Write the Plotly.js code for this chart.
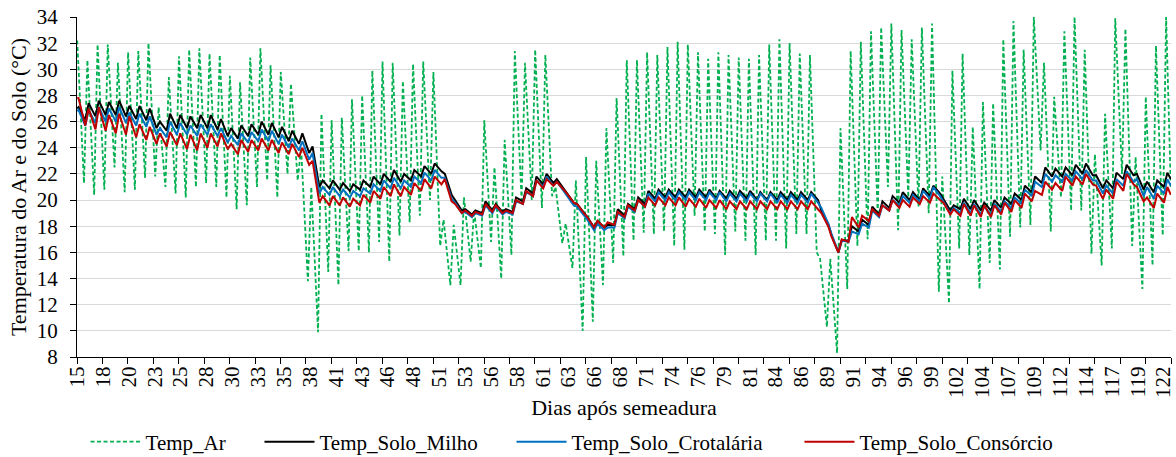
<!DOCTYPE html>
<html><head><meta charset="utf-8">
<script src="https://cdn.plot.ly/plotly-3.0.1.min.js"></script>
<style>html,body{margin:0;padding:0;background:#fff;}#chart{width:1176px;height:457px;}</style>
</head><body><div id="chart"></div>
<script>
// x-axis labels (days after sowing), one label every 61 hourly readings
const tickLabels = ['15','18','20','23','25','28','30','33','35','38','41','43','46','48','51','53','56','58','61','63','66','68','71','74','76','79','81','84','86','89','91','94','96','99','102','104','107','109','112','114','117','119','122'];

// Air temperature: daily maximum (days 15..122) and daily minimum (days 16..122)
const arMax = [32.2,30.7,31.9,31.9,30.5,31.3,31.4,32.0,27.1,29.4,
  31.0,31.5,31.6,31.2,31.1,29.5,29.0,30.9,31.6,30.3,
  29.8,28.9,24.0,21.0,26.6,26.1,26.3,27.7,28.0,29.9,
  30.6,30.5,29.1,30.4,30.6,29.8,18.5,18.1,20.2,19.2,
  26.1,22.5,24.6,31.4,30.5,31.5,31.1,21.0,18.2,21.5,
  23.3,23.0,25.5,27.8,30.7,30.7,31.3,31.1,31.7,32.1,
  31.9,31.3,30.8,31.3,31.1,30.9,30.8,31.1,31.9,32.3,
  32.0,31.2,31.1,15.5,15.5,25.5,31.4,32.1,32.9,33.2,
  33.5,33.0,32.3,33.2,33.5,21.8,29.9,31.2,25.6,27.5,
  27.4,32.3,33.7,31.5,34.0,30.5,27.9,32.9,34.0,31.5,
  23.5,26.6,33.9,33.1,23.3,27.9,31.8,34.0];
const arMin = [21.3,20.4,20.8,22.5,20.6,20.8,21.7,21.8,21.0,20.5,
  20.2,21.0,21.3,21.0,20.2,19.3,19.6,21.0,21.5,20.2,
  22.0,21.5,13.8,9.9,14.5,13.5,16.1,16.1,16.0,16.8,
  15.3,17.3,18.3,18.8,20.0,16.5,13.5,13.5,15.3,14.8,
  16.8,14.0,15.8,20.0,20.0,19.4,20.3,16.7,14.8,10.0,
  10.7,13.5,15.2,15.7,16.9,17.5,17.4,17.6,16.5,16.2,
  18.8,17.6,17.4,15.8,17.6,16.9,15.8,16.9,16.9,16.3,
  17.4,17.4,16.0,10.3,8.3,13.2,16.5,17.0,18.8,21.0,
  17.7,20.2,19.5,19.0,13.0,12.1,16.3,15.8,13.2,15.2,
  14.7,17.2,17.9,18.1,23.8,17.6,20.2,19.2,19.2,15.9,
  15.0,16.3,22.0,16.5,13.2,15.0,17.3];
const arEnd = 21.0;

// Soil temperature, maize: daily maximum (days 15..122), minimum (days 16..122)
const milhoMax = [27.1,27.4,27.6,27.5,27.6,27.2,27.2,27.0,26.0,26.6,
  26.5,26.4,26.5,26.5,26.2,25.5,25.7,25.8,26.0,25.9,
  25.6,25.3,25.1,24.1,21.5,21.5,21.3,21.2,21.5,21.8,
  22.0,22.3,22.0,22.3,22.6,22.8,22.0,20.0,19.3,19.2,
  19.9,19.7,19.3,20.2,20.9,21.8,22.0,21.6,20.5,19.7,
  18.7,18.4,18.1,19.3,19.7,20.2,20.7,20.8,20.8,20.8,
  20.8,20.8,20.8,20.7,20.7,20.7,20.7,20.6,20.6,20.6,
  20.6,20.6,20.6,19.2,17.3,16.9,18.0,18.5,19.5,19.9,
  20.3,20.6,20.6,20.9,21.1,20.1,19.6,20.1,20.0,19.8,
  20.0,20.2,20.5,21.1,21.8,22.5,22.4,22.5,22.7,22.8,
  21.9,21.5,22.1,22.7,22.0,21.4,21.5,22.1];
const milhoMin = [26.1,26.4,26.5,26.5,26.4,26.2,26.1,25.5,25.3,25.5,
  25.5,25.5,25.5,25.4,24.9,24.7,24.9,25.0,25.0,24.8,
  24.5,24.3,23.6,21.0,20.9,20.8,20.7,20.8,21.0,21.2,
  21.4,21.4,21.5,21.8,22.0,22.2,20.4,19.2,18.9,19.0,
  19.2,19.1,19.1,19.9,20.5,21.2,21.3,20.9,19.8,19.0,
  17.9,17.9,18.1,18.8,19.3,19.7,20.1,20.2,20.2,20.2,
  20.2,20.2,20.1,20.1,20.1,20.1,20.0,20.0,20.0,20.0,
  20.0,20.0,20.0,18.2,16.0,16.9,17.6,18.1,18.9,19.4,
  19.8,20.0,20.0,20.3,20.5,19.2,19.3,19.3,19.2,19.2,
  19.4,19.7,20.0,20.6,21.3,21.8,21.8,21.9,22.0,21.9,
  20.9,20.9,21.6,21.9,20.8,20.6,21.0];
const milhoStart = 27.0, milhoEnd = 21.6;

// Soil temperature, sunn hemp
const crotMax = [26.9,26.9,27.1,27.0,27.1,26.7,26.6,26.4,25.5,26.0,
  25.9,25.7,25.8,25.8,25.5,24.9,25.1,25.2,25.4,25.3,
  25.0,24.7,24.5,23.6,21.0,21.0,20.8,20.7,20.9,21.2,
  21.5,21.7,21.5,21.8,22.1,22.3,21.7,19.8,19.1,19.0,
  19.6,19.5,19.1,19.9,20.6,21.5,21.8,21.4,20.3,19.5,
  18.5,18.2,17.9,19.0,19.5,20.0,20.5,20.6,20.6,20.6,
  20.6,20.6,20.6,20.6,20.5,20.5,20.5,20.5,20.5,20.4,
  20.4,20.4,20.5,19.4,17.4,16.9,17.6,18.2,19.2,19.6,
  20.0,20.3,20.4,20.7,21.0,19.9,19.4,19.8,19.7,19.5,
  19.7,19.9,20.2,20.8,21.4,22.0,21.9,22.0,22.2,22.3,
  21.5,21.1,21.6,22.2,21.6,21.0,21.1,21.6];
const crotMin = [25.7,25.9,26.0,26.0,25.9,25.7,25.6,25.0,24.8,25.0,
  25.0,24.9,25.0,24.9,24.4,24.2,24.4,24.5,24.5,24.3,
  24.0,23.8,23.1,20.5,20.4,20.3,20.2,20.3,20.5,20.7,
  20.9,20.9,21.0,21.3,21.5,21.7,20.1,19.0,18.7,18.8,
  19.0,18.9,18.9,19.7,20.3,21.0,21.1,20.7,19.6,18.8,
  17.7,17.7,17.9,18.6,19.1,19.5,19.9,20.0,20.0,20.0,
  20.0,20.0,20.0,19.9,19.9,19.9,19.9,19.9,19.8,19.8,
  19.8,19.8,19.8,18.2,16.0,16.8,17.4,17.9,18.7,19.2,
  19.6,19.8,19.9,20.1,20.3,19.0,19.0,19.0,18.9,18.9,
  19.1,19.4,19.7,20.3,21.0,21.4,21.4,21.5,21.6,21.5,
  20.5,20.5,21.1,21.4,20.3,20.1,20.5];
const crotStart = 26.8, crotEnd = 21.1;

// Soil temperature, intercropping
const consMax = [27.8,27.0,27.1,26.5,26.6,26.4,25.8,25.6,25.1,25.2,
  25.1,25.0,25.1,25.1,25.1,24.3,24.6,24.6,24.7,24.6,
  24.4,24.3,24.0,23.0,20.3,20.3,20.2,20.1,20.4,20.7,
  21.0,21.2,21.0,21.3,21.6,21.8,21.6,19.7,19.2,19.1,
  19.7,19.6,19.2,20.0,20.7,21.5,21.6,21.4,20.5,19.7,
  18.7,18.4,18.3,19.1,19.6,20.0,20.2,20.2,20.2,20.2,
  20.1,20.1,20.0,20.0,19.9,19.9,19.9,19.9,19.9,19.9,
  19.9,19.9,19.9,19.0,17.2,17.0,18.7,18.8,19.3,19.6,
  20.0,20.0,20.2,20.3,20.5,19.8,19.3,19.7,19.6,19.6,
  19.6,19.8,20.0,20.5,20.7,21.4,21.3,21.8,21.8,22.0,
  21.1,20.8,21.4,22.0,21.0,20.2,20.5,21.0];
const consMin = [25.7,25.4,25.3,25.1,25.0,24.8,24.6,24.3,24.1,24.2,
  23.9,23.8,24.0,24.1,23.9,23.5,23.7,23.8,23.8,23.6,
  23.5,23.3,22.7,19.8,19.6,19.6,19.5,19.6,19.8,20.1,
  20.3,20.3,20.4,20.7,20.9,21.2,19.9,19.0,18.8,18.9,
  19.1,19.0,19.0,19.7,20.3,20.9,21.1,20.8,19.8,19.0,
  17.9,17.9,18.1,18.7,19.2,19.5,19.6,19.6,19.6,19.5,
  19.5,19.4,19.4,19.3,19.3,19.3,19.3,19.3,19.3,19.3,
  19.3,19.3,19.3,18.0,16.0,16.8,17.9,18.4,18.8,19.2,
  19.4,19.5,19.7,19.8,20.0,18.9,18.8,18.8,18.7,18.7,
  18.9,19.1,19.4,19.9,20.4,20.8,20.7,21.1,21.2,21.2,
  20.1,20.1,20.7,21.2,19.9,19.4,19.8];
const consStart = 27.8, consEnd = 20.4;

// ---- time grid: hourly categories starting at 14:00 of day 15 ----
const nHours = 2580, labelEvery = 61, tickEvery = 60;

function build(maxV, minV, startV, endV, maxOff, minOff) {
  const x = [], y = [];
  if (startV !== null) { x.push(0); y.push(startV); }
  for (let i = 0; i < maxV.length; i++) {
    if (i > 0) { x.push(24 * i + minOff); y.push(minV[i - 1]); }
    const h = 24 * i + maxOff;
    if (!(startV !== null && h === 0)) { x.push(h); y.push(maxV[i]); }
  }
  x.push(nHours - 1); y.push(endV);
  return {x, y};
}

const ar = build(arMax, arMin, null, arEnd, 0, -8);
const mi = build(milhoMax, milhoMin, milhoStart, milhoEnd, 3, -5);
const cr = build(crotMax, crotMin, crotStart, crotEnd, 3, -5);
const co = build(consMax, consMin, consStart, consEnd, 3, -5);

const FONT = '"Times New Roman", "Liberation Serif", serif';
const traces = [
  {x: ar.x, y: ar.y, name: 'Temp_Ar', mode: 'lines', legend: 'legend', line: {color: '#00B050', width: 1.8, dash: '4px,2.5px'}},
  {x: mi.x, y: mi.y, name: 'Temp_Solo_Milho', mode: 'lines', legend: 'legend2', line: {color: '#000000', width: 2}},
  {x: cr.x, y: cr.y, name: 'Temp_Solo_Crotalária', mode: 'lines', legend: 'legend3', line: {color: '#0070C0', width: 2}},
  {x: co.x, y: co.y, name: 'Temp_Solo_Consórcio', mode: 'lines', legend: 'legend4', line: {color: '#C00000', width: 2}}
];

const labelVals = tickLabels.map((_, k) => k * labelEvery);
const tickMarks = [];
for (let j = 0; j * tickEvery <= nHours; j++) tickMarks.push(j * tickEvery - 0.5);

function leg(xp) {
  return {orientation: 'h', x: xp, xanchor: 'left', y: -0.25, yanchor: 'middle',
    font: {family: FONT, size: 21, color: '#000'}, itemwidth: 50, bgcolor: 'rgba(0,0,0,0)'};
}

const layout = {
  width: 1176, height: 457,
  margin: {l: 77, r: 5, t: 17, b: 100, autoexpand: false},
  paper_bgcolor: '#fff', plot_bgcolor: '#fff',
  font: {family: FONT, color: '#000', size: 20},
  showlegend: true,
  xaxis: {
    range: [-0.5, nHours - 0.5], tickmode: 'array', tickvals: labelVals, ticktext: tickLabels,
    ticks: '', tickangle: -90, tickfont: {family: FONT, size: 21, color: '#000'}, automargin: false,
    showline: true, linecolor: '#000', linewidth: 1, showgrid: false, zeroline: false,
    minor: {tickmode: 'array', tickvals: tickMarks, ticks: 'outside', ticklen: 6, tickcolor: '#000', tickwidth: 1, showgrid: false},
    title: {text: 'Dias após semeadura', font: {family: FONT, size: 22, color: '#000'}, standoff: 2}
  },
  yaxis: {
    range: [8, 34], tickmode: 'linear', tick0: 8, dtick: 2, automargin: false,
    ticks: 'outside', ticklen: 6, tickcolor: '#000', ticklabelstandoff: 8,
    tickfont: {family: FONT, size: 21, color: '#000'},
    showline: true, linecolor: '#000', linewidth: 1,
    showgrid: true, gridcolor: '#d9d9d9', gridwidth: 1, zeroline: false,
    title: {text: 'Temperatura do Ar e do Solo (°C)', font: {family: FONT, size: 22, color: '#000'}, standoff: 4}
  },
  legend: leg(0.0078),
  legend2: leg(0.1668),
  legend3: leg(0.3972),
  legend4: leg(0.6604)
};

Plotly.newPlot('chart', traces, layout, {displayModeBar: false, staticPlot: true});
</script>
</body></html>
